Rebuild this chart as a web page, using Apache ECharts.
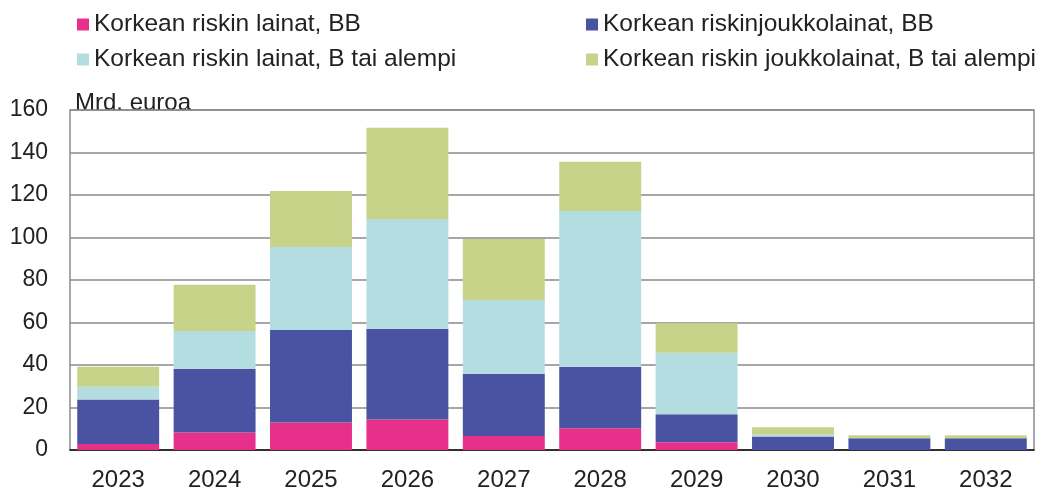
<!DOCTYPE html>
<html><head><meta charset="utf-8">
<script src="https://cdn.jsdelivr.net/npm/echarts@6/dist/echarts.min.js"></script>
<style>html,body{margin:0;padding:0;background:#fff}#c{width:1045px;height:493px}</style>
</head><body><div id="c"></div>
<script>
var categories = ['2023','2024','2025','2026','2027','2028','2029','2030','2031','2032'];
var loansBB = [2.8, 8.2, 12.9, 14.4, 6.6, 10.2, 3.6, 0, 0, 0];
var bondsBB = [21.0, 29.9, 43.6, 42.7, 29.3, 29.0, 13.2, 6.3, 5.5, 5.5];
var loansB = [6.0, 17.9, 39.0, 51.6, 34.7, 73.3, 29.0, 0.9, 0, 0];
var bondsB = [9.4, 21.8, 26.4, 43.0, 28.7, 23.2, 13.8, 3.5, 1.4, 1.4];
var seriesNames = ['Korkean riskin lainat, BB','Korkean riskinjoukkolainat, BB','Korkean riskin lainat, B tai alempi','Korkean riskin joukkolainat, B tai alempi'];
var yTicks = [0, 20, 40, 60, 80, 100, 120, 140, 160];
var colors = ['#e6308a','#4a53a2','#b4dde1','#c6d389'];
var font = 'Liberation Sans, Arial, sans-serif';
var chart = echarts.init(document.getElementById('c'));
var data = [loansBB, bondsBB, loansB, bondsB];
chart.setOption({
  animation: false,
  color: colors,
  textStyle: {fontFamily: font},
  grid: {left: 70, right: 11, top: 110, bottom: 43, show: true, borderColor: '#8a8a8a', borderWidth: 1.5},
  legend: [
    {data: [seriesNames[0], seriesNames[2]], orient: 'vertical', left: 72, top: 7, itemWidth: 12, itemHeight: 12, itemGap: 10, icon: 'rect',
     textStyle: {fontSize: 24.5, color: '#222', fontFamily: font}},
    {data: [seriesNames[1], seriesNames[3]], orient: 'vertical', left: 581, top: 7, itemWidth: 12, itemHeight: 12, itemGap: 10, icon: 'rect',
     textStyle: {fontSize: 24.5, color: '#222', fontFamily: font}}
  ],
  xAxis: {type: 'category', data: categories,
    axisLine: {lineStyle: {color: '#111', width: 1.5}}, axisTick: {show: false},
    axisLabel: {fontSize: 24, color: '#222', margin: 18, fontFamily: font}},
  yAxis: {type: 'value', min: yTicks[0], max: yTicks[yTicks.length-1], interval: 20,
    axisLine: {show: false}, axisTick: {show: false},
    axisLabel: {fontSize: 23, color: '#222', margin: 22, fontFamily: font},
    splitLine: {lineStyle: {color: '#8a8a8a', width: 1.5}}},
  graphic: [{type: 'text', left: 75, top: 91, style: {text: 'Mrd. euroa', fontSize: 24, fill: '#222', fontFamily: font}}],
  series: data.map(function(d, i){
    return {name: seriesNames[i], type: 'bar', stack: 'a', data: d, barCategoryGap: '15%'};
  })
});
</script></body></html>
